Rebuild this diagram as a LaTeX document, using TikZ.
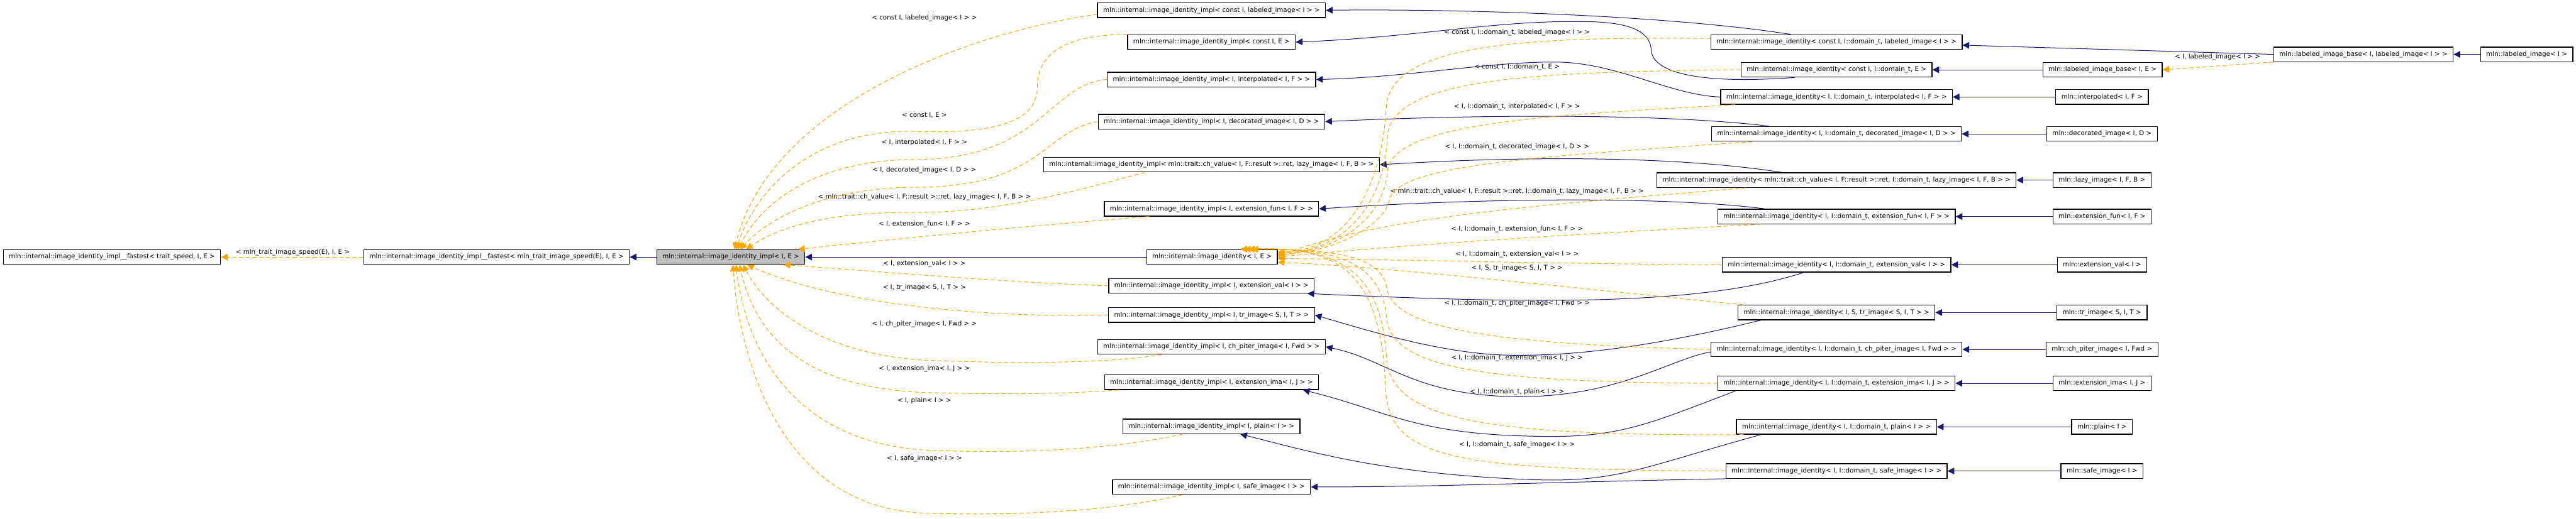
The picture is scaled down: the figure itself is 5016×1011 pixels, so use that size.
\documentclass[tikz,border=0pt]{standalone}
\usepackage{fontspec}
\setmainfont{DejaVu Sans}
\usepackage{tikz}
\usetikzlibrary{arrows.meta}
\definecolor{doxyblue}{HTML}{191970}
\definecolor{doxyorange}{HTML}{FFA500}
\definecolor{doxygray}{HTML}{BFBFBF}

\begin{document}
\begin{tikzpicture}[x=0.01cm,y=0.01cm,
    cls/.style = {rectangle,draw=black,fill=white,line width=0.45pt,
                  font=\fontsize{3.6}{4.3}\selectfont,minimum height=0.285cm,
                  inner xsep=0.11cm,inner ysep=0pt},
    cur/.style = {cls,fill=doxygray},
    inh/.style = {-{Triangle[length=0.13cm,width=0.13cm]},doxyblue,line width=0.35pt},
    tpl/.style = {-{Triangle[length=0.13cm,width=0.13cm]},doxyorange,line width=0.35pt,
                  dash pattern=on 0.08cm off 0.05cm},
    lab/.style = {font=\fontsize{3.6}{4.3}\selectfont,inner sep=0pt},
  ]
  \useasboundingbox (0,0) rectangle (5016,-1011);

  \node[cls] (fastA) at (218,-501)  {mln::internal::image\_identity\_impl\_\_fastest< trait\_speed, I, E >};
  \node[cls] (fastB) at (967,-501)  {mln::internal::image\_identity\_impl\_\_fastest< mln\_trait\_image\_speed(E), I, E >};
  \node[cur] (impl)  at (1423,-501) {mln::internal::image\_identity\_impl< I, E >};

  % Spécialisations de image_identity_impl
  \node[cls] (cLab)   at (2359,-20)  {mln::internal::image\_identity\_impl< const I, labeled\_image< I > >};
  \node[cls] (cE)     at (2359,-82)  {mln::internal::image\_identity\_impl< const I, E >};
  \node[cls] (cInt)   at (2359,-155) {mln::internal::image\_identity\_impl< I, interpolated< I, F > >};
  \node[cls] (cDec)   at (2359,-237) {mln::internal::image\_identity\_impl< I, decorated\_image< I, D > >};
  \node[cls] (cLazy)  at (2359,-321) {mln::internal::image\_identity\_impl< mln::trait::ch\_value< I, F::result >::ret, lazy\_image< I, F, B > >};
  \node[cls] (cFun)   at (2359,-407) {mln::internal::image\_identity\_impl< I, extension\_fun< I, F > >};
  \node[cls] (ident)  at (2360,-501) {mln::internal::image\_identity< I, E >};
  \node[cls] (cVal)   at (2359,-557) {mln::internal::image\_identity\_impl< I, extension\_val< I > >};
  \node[cls] (cTr)    at (2359,-614) {mln::internal::image\_identity\_impl< I, tr\_image< S, I, T > >};
  \node[cls] (cPit)   at (2359,-676) {mln::internal::image\_identity\_impl< I, ch\_piter\_image< I, Fwd > >};
  \node[cls] (cIma)   at (2359,-745) {mln::internal::image\_identity\_impl< I, extension\_ima< I, J > >};
  \node[cls] (cPlain) at (2359,-831) {mln::internal::image\_identity\_impl< I, plain< I > >};
  \node[cls] (cSafe)  at (2359,-949) {mln::internal::image\_identity\_impl< I, safe\_image< I > >};

  % Spécialisations de image_identity
  \node[cls] (iLab)   at (3576,-82)  {mln::internal::image\_identity< const I, I::domain\_t, labeled\_image< I > >};
  \node[cls] (iE)     at (3576,-136) {mln::internal::image\_identity< const I, I::domain\_t, E >};
  \node[cls] (iInt)   at (3576,-189) {mln::internal::image\_identity< I, I::domain\_t, interpolated< I, F > >};
  \node[cls] (iDec)   at (3576,-261) {mln::internal::image\_identity< I, I::domain\_t, decorated\_image< I, D > >};
  \node[cls] (iLazy)  at (3576,-351) {mln::internal::image\_identity< mln::trait::ch\_value< I, F::result >::ret, I::domain\_t, lazy\_image< I, F, B > >};
  \node[cls] (iFun)   at (3576,-422) {mln::internal::image\_identity< I, I::domain\_t, extension\_fun< I, F > >};
  \node[cls] (iVal)   at (3576,-516) {mln::internal::image\_identity< I, I::domain\_t, extension\_val< I > >};
  \node[cls] (iTr)    at (3576,-609) {mln::internal::image\_identity< I, S, tr\_image< S, I, T > >};
  \node[cls] (iPit)   at (3576,-681) {mln::internal::image\_identity< I, I::domain\_t, ch\_piter\_image< I, Fwd > >};
  \node[cls] (iIma)   at (3576,-747) {mln::internal::image\_identity< I, I::domain\_t, extension\_ima< I, J > >};
  \node[cls] (iPlain) at (3576,-832) {mln::internal::image\_identity< I, I::domain\_t, plain< I > >};
  \node[cls] (iSafe)  at (3576,-918) {mln::internal::image\_identity< I, I::domain\_t, safe\_image< I > >};

  % Classes d'images
  \node[cls] (baseE)  at (4094,-136) {mln::labeled\_image\_base< I, E >};
  \node[cls] (interp) at (4093,-189) {mln::interpolated< I, F >};
  \node[cls] (decor)  at (4093,-261) {mln::decorated\_image< I, D >};
  \node[cls] (lazy)   at (4093,-351) {mln::lazy\_image< I, F, B >};
  \node[cls] (extFun) at (4093,-422) {mln::extension\_fun< I, F >};
  \node[cls] (extVal) at (4093,-516) {mln::extension\_val< I >};
  \node[cls] (trIma)  at (4093,-609) {mln::tr\_image< S, I, T >};
  \node[cls] (chPit)  at (4093,-681) {mln::ch\_piter\_image< I, Fwd >};
  \node[cls] (extIma) at (4093,-747) {mln::extension\_ima< I, J >};
  \node[cls] (plain)  at (4093,-832) {mln::plain< I >};
  \node[cls] (safe)   at (4093,-918) {mln::safe\_image< I >};
  \node[cls] (baseL)  at (4602,-106) {mln::labeled\_image\_base< I, labeled\_image< I > >};
  \node[cls] (labIma) at (4920,-106) {mln::labeled\_image< I >};

  % Étiquettes des arguments
  \node[lab] (lFast)  at (570,-492)  {< mln\_trait\_image\_speed(E), I, E >};
  \node[lab] (lcLab)  at (1800,-35)  {< const I, labeled\_image< I > >};
  \node[lab] (lcE)    at (1800,-224) {< const I, E >};
  \node[lab] (lcInt)  at (1800,-277) {< I, interpolated< I, F > >};
  \node[lab] (lcDec)  at (1800,-331) {< I, decorated\_image< I, D > >};
  \node[lab] (lcLazy) at (1800,-384) {< mln::trait::ch\_value< I, F::result >::ret, lazy\_image< I, F, B > >};
  \node[lab] (lcFun)  at (1800,-437) {< I, extension\_fun< I, F > >};
  \node[lab] (lcVal)  at (1800,-514) {< I, extension\_val< I > >};
  \node[lab] (lcTr)   at (1800,-561) {< I, tr\_image< S, I, T > >};
  \node[lab] (lcPit)  at (1800,-632) {< I, ch\_piter\_image< I, Fwd > >};
  \node[lab] (lcIma)  at (1800,-719) {< I, extension\_ima< I, J > >};
  \node[lab] (lcPlain) at (1800,-781) {< I, plain< I > >};
  \node[lab] (lcSafe) at (1800,-894) {< I, safe\_image< I > >};
  \node[lab] (liLab)  at (2954,-64)  {< const I, I::domain\_t, labeled\_image< I > >};
  \node[lab] (liE)    at (2954,-131) {< const I, I::domain\_t, E >};
  \node[lab] (liInt)  at (2954,-208) {< I, I::domain\_t, interpolated< I, F > >};
  \node[lab] (liDec)  at (2954,-286) {< I, I::domain\_t, decorated\_image< I, D > >};
  \node[lab] (liLazy) at (2954,-373) {< mln::trait::ch\_value< I, F::result >::ret, I::domain\_t, lazy\_image< I, F, B > >};
  \node[lab] (liFun)  at (2954,-447) {< I, I::domain\_t, extension\_fun< I, F > >};
  \node[lab] (liVal)  at (2954,-496) {< I, I::domain\_t, extension\_val< I > >};
  \node[lab] (liTr)   at (2954,-523) {< I, S, tr\_image< S, I, T > >};
  \node[lab] (liPit)  at (2954,-591) {< I, I::domain\_t, ch\_piter\_image< I, Fwd > >};
  \node[lab] (liIma)  at (2954,-698) {< I, I::domain\_t, extension\_ima< I, J > >};
  \node[lab] (liPlain) at (2954,-764) {< I, I::domain\_t, plain< I > >};
  \node[lab] (liSafe) at (2954,-867) {< I, I::domain\_t, safe\_image< I > >};
  \node[lab] (lBase)  at (4318,-111) {< I, labeled\_image< I > >};

  % Héritage
  \draw[inh] (impl) -- (fastB);
  \draw[inh] (ident) -- (impl);
  \draw[tpl] (fastB) -- (fastA);

  \draw[inh] ([xshift=-0.89cm]iLab.north) .. controls (3250,-30) and (2850,-17) .. (cLab.east);
  \draw[inh] ([xshift=-0.81cm]iE.south) .. controls (3300,-165) and (3215,-140) .. (3215,-95)
        .. controls (3210,-40) and (3110,-42) .. (3060,-42) .. controls (2900,-42) and (2750,-73) .. (cE.east);
  \draw[inh] (iInt.west) .. controls (3250,-185) and (3150,-122) .. (3030,-121)
        .. controls (2900,-120) and (2750,-150) .. (cInt.east);
  \draw[inh] ([xshift=-1.31cm]iDec.north) .. controls (3250,-222) and (2900,-222) .. (cDec.east);
  \draw[inh] ([xshift=-1.06cm]iLazy.north) .. controls (3250,-302) and (2950,-305) .. (cLazy.east);
  \draw[inh] ([xshift=-1.39cm]iFun.north) .. controls (3250,-383) and (2900,-385) .. (cFun.east);
  \draw[inh] ([xshift=-0.64cm]iVal.south) .. controls (3300,-600) and (2950,-590) .. ([xshift=-0.14cm]cVal.south east);
  \draw[inh] ([xshift=-1.47cm]iTr.south) .. controls (3200,-680) and (3050,-695) .. (2930,-692)
        .. controls (2800,-688) and (2650,-640) .. (cTr.east);
  \draw[inh] ([yshift=-0.05cm]iPit.west) .. controls (3250,-700) and (3150,-775) .. (2950,-773)
        .. controls (2750,-770) and (2700,-700) .. (cPit.east);
  \draw[inh] ([xshift=-1.97cm]iIma.south) .. controls (3200,-830) and (3150,-855) .. (2980,-850)
        .. controls (2750,-845) and (2700,-800) .. ([xshift=-0.31cm]cIma.south east);
  \draw[inh] ([xshift=-1.47cm]iPlain.south) .. controls (3200,-910) and (3150,-940) .. (2990,-935)
        .. controls (2700,-925) and (2550,-880) .. ([xshift=0.56cm]cPlain.south);
  \draw[inh] (iSafe.south west) .. controls (3000,-940) and (2800,-949) .. (cSafe.east);

  \draw[inh] (baseE) -- (iE);
  \draw[inh] (baseL.west) -- ([yshift=-0.06cm]iLab.east);
  \draw[inh] (labIma) -- (baseL);
  \draw[tpl] (baseL.south west) -- (baseE.east);
  \draw[inh] (interp) -- (iInt);
  \draw[inh] (decor) -- (iDec);
  \draw[inh] (lazy) -- (iLazy);
  \draw[inh] (extFun) -- (iFun);
  \draw[inh] (extVal) -- (iVal);
  \draw[inh] (trIma) -- (iTr);
  \draw[inh] (chPit) -- (iPit);
  \draw[inh] (extIma) -- (iIma);
  \draw[inh] (plain) -- (iPlain);
  \draw[inh] (safe) -- (iSafe);

  % Instanciations de image_identity_impl< I, E >
  \draw[tpl] ([yshift=-0.08cm]cLab.west) .. controls (1900,-60) and (1500,-200) .. ([xshift=0.07cm]impl.north);
  \draw[tpl] (cE.north west) .. controls (2050,-68) and (2020,-120) .. (2020,-170)
        .. controls (2020,-250) and (1900,-260) .. (1780,-256)
        .. controls (1600,-252) and (1480,-350) .. ([xshift=0.1cm]impl.north);
  \draw[tpl] (cInt.west) .. controls (2040,-165) and (2030,-310) .. (1780,-311)
        .. controls (1610,-311) and (1490,-380) .. ([xshift=0.14cm]impl.north);
  \draw[tpl] (cDec.west) .. controls (2030,-255) and (2030,-365) .. (1780,-365)
        .. controls (1620,-365) and (1500,-420) .. ([xshift=0.19cm]impl.north);
  \draw[tpl] ([xshift=-1.3cm]cLazy.south) .. controls (2100,-370) and (1950,-415) .. (1780,-414)
        .. controls (1620,-413) and (1520,-440) .. ([xshift=0.3cm]impl.north);
  \draw[tpl] ([xshift=-1.22cm]cFun.south) .. controls (2000,-440) and (1700,-470) .. ([xshift=-0.14cm]impl.north east);
  \draw[tpl] (cVal.west) .. controls (1950,-550) and (1700,-528) .. ([xshift=-0.42cm]impl.south east);
  \draw[tpl] (cTr.west) .. controls (1900,-620) and (1620,-590) .. ([xshift=0.32cm]impl.south);
  \draw[tpl] ([xshift=-0.97cm]cPit.south) .. controls (2150,-710) and (1950,-708) .. (1800,-702)
        .. controls (1600,-690) and (1490,-600) .. ([xshift=0.24cm]impl.south);
  \draw[tpl] ([xshift=-1.8cm]cIma.south) .. controls (2050,-770) and (1900,-768) .. (1800,-765)
        .. controls (1560,-755) and (1470,-650) .. ([xshift=0.17cm]impl.south);
  \draw[tpl] ([xshift=-0.56cm]cPlain.south) .. controls (2150,-880) and (1950,-884) .. (1800,-877)
        .. controls (1560,-862) and (1455,-700) .. ([xshift=0.1cm]impl.south);
  \draw[tpl] ([xshift=-0.56cm]cSafe.south) .. controls (2150,-1000) and (1950,-1005) .. (1800,-1000)
        .. controls (1520,-990) and (1440,-700) .. ([xshift=0.04cm]impl.south);

  % Instanciations de image_identity< I, E >
  \draw[tpl] ([yshift=0.07cm]iLab.west) .. controls (3000,-72) and (2720,-80) .. (2700,-200)
        .. controls (2690,-400) and (2600,-490) .. ([yshift=0.1cm]ident.east);
  \draw[tpl] (iE.west) .. controls (3000,-140) and (2720,-150) .. (2702,-260)
        .. controls (2695,-420) and (2600,-490) .. ([yshift=0.08cm]ident.east);
  \draw[tpl] ([xshift=-1.97cm]iInt.south) .. controls (3000,-225) and (2720,-240) .. (2702,-330)
        .. controls (2695,-430) and (2600,-490) .. ([yshift=0.06cm]ident.east);
  \draw[tpl] ([xshift=-1.64cm]iDec.south) .. controls (3000,-305) and (2720,-320) .. (2705,-390)
        .. controls (2695,-440) and (2600,-490) .. ([yshift=0.04cm]ident.east);
  \draw[tpl] ([xshift=-1.76cm]iLazy.south) .. controls (3000,-400) and (2700,-420) .. ([yshift=0.02cm]ident.east);
  \draw[tpl] ([xshift=-1.47cm]iFun.south) .. controls (3000,-460) and (2700,-480) .. (ident.east);
  \draw[tpl] (iVal.west) .. controls (3000,-514) and (2700,-505) .. ([yshift=-0.03cm]ident.east);
  \draw[tpl] ([xshift=-1.81cm]iTr.north) .. controls (3050,-560) and (2700,-520) .. ([yshift=-0.1cm]ident.east);
  \draw[tpl] (iPit.west) .. controls (2900,-670) and (2710,-640) .. (2700,-560)
        .. controls (2690,-500) and (2600,-485) .. ([xshift=0.77cm]ident.north);
  \draw[tpl] (iIma.west) .. controls (2900,-745) and (2710,-720) .. (2700,-620)
        .. controls (2690,-510) and (2600,-482) .. ([xshift=0.7cm]ident.north);
  \draw[tpl] ([xshift=-1.81cm]iPlain.south) .. controls (2900,-850) and (2710,-820) .. (2700,-700)
        .. controls (2690,-520) and (2600,-480) .. ([xshift=0.62cm]ident.north);
  \draw[tpl] (iSafe.west) .. controls (2850,-915) and (2705,-900) .. (2698,-760)
        .. controls (2690,-520) and (2600,-478) .. ([xshift=0.55cm]ident.north);

\end{tikzpicture}
\end{document}
